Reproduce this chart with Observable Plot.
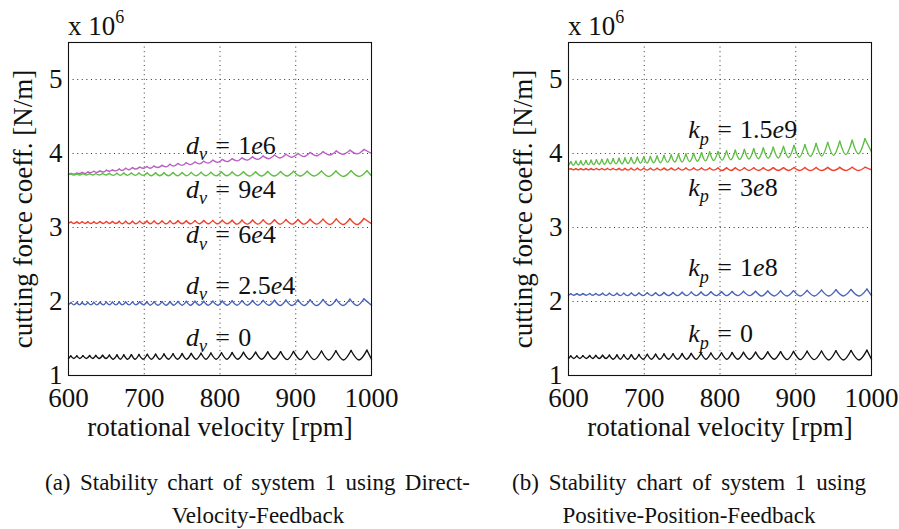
<!DOCTYPE html>
<html><head><meta charset="utf-8">
<script src="https://cdn.jsdelivr.net/npm/d3@7"></script>
<script src="https://cdn.jsdelivr.net/npm/@observablehq/plot@0.6"></script>
<style>
html,body{margin:0;padding:0;background:#fff;}
body{width:899px;height:529px;position:relative;overflow:hidden;font-family:"Liberation Serif","Times New Roman",serif;color:#111;}
.panel{position:absolute;top:0;}
.cap{position:absolute;font-size:23px;line-height:1;color:#111;white-space:nowrap;}
.just{white-space:normal;text-align:justify;text-align-last:justify;}
.ctr{text-align:center;}
</style></head><body>
<div id="pa" class="panel" style="left:0"></div>
<div id="pb" class="panel" style="left:450px"></div>
<div class="cap just" style="left:45px;top:471px;width:425px">(a) Stability chart of system 1 using Direct-</div>
<div class="cap ctr" style="left:58px;top:504px;width:400px">Velocity-Feedback</div>
<div class="cap just" style="left:512px;top:471px;width:354px">(b) Stability chart of system 1 using</div>
<div class="cap ctr" style="left:489px;top:504px;width:400px">Positive-Position-Feedback</div>
<script>
// ---- axis ticks ----
const xTicks = [600, 700, 800, 900, 1000];
const yTicks = [1, 2, 3, 4, 5];
const xLabel = "rotational velocity [rpm]";
const yLabel = "cutting force coeff. [N/m]";

// ---- lobe vertex positions (rpm) ----
// set with ~30 lobes
const rpm30Trough = [600,607,615,623.5,632,640.5,649.5,659,668.5,678,688,698.5,709.5,720.5,732,744,756,768.5,781.5,795,809,823.5,839,855,871.5,888.5,906,924.5,943.5,963,983.5,1000];
const rpm30Peak = [603,611,619,628,636,645,654,664,673,683,693,704,715,726,738,750,762,775,788,802,816,831,847,863,880,897,915,934,953,973,994];
// set with ~34 lobes
const rpm34Trough = [600,607,614.5,622,629.5,637.5,646,654,662.5,671,680,689,699,708,718,729,739,750,761,773,784.5,797,809.5,822.5,836,850,864.5,879.5,895,911,927.5,945,962.5,981,1000];
const rpm34Peak = [603.5,611,618,625.5,633.5,641.5,650,658,667,675.5,684.5,694,703.5,713,723.5,734,744.5,755.5,767,778.5,790.5,803,816,829,843,857,872,887,903,919,936,953.5,971.5,990];
// set with ~38 lobes
const rpm38Trough = [600,606.4,612.9,619.6,626.4,633.3,640.4,647.7,655.2,662.8,670.6,678.6,686.7,695.1,703.7,712.5,721.5,730.8,740.3,750,760,770.3,780.8,791.7,802.8,814.3,826.1,838.2,850.7,863.6,876.9,890.6,904.8,919.4,934.4,950,966.1,982.8,1000];
const rpm38Peak = [603.2,609.7,616.3,623,629.9,636.9,644,651.5,659,666.7,674.6,682.7,690.9,699.4,708.1,717,726.2,735.6,745.2,755,765.2,775.6,786.3,797.3,808.6,820.2,832.2,844.5,857.2,870.3,883.8,897.7,912.1,926.9,942.2,958.1,974.5,991.4];

// ---- cutting force coefficient values (x 10^6 N/m) ----
// panel (a) and (b): no feedback (black)
const noFbTrough = [1.23,1.23,1.23,1.23,1.23,1.23,1.23,1.22,1.22,1.22,1.22,1.22,1.22,1.22,1.22,1.22,1.22,1.22,1.22,1.22,1.22,1.22,1.22,1.22,1.22,1.215,1.215,1.215,1.21,1.21,1.21,1.22];
const noFbPeak = [1.265,1.265,1.268,1.27,1.272,1.274,1.276,1.278,1.28,1.282,1.284,1.287,1.289,1.291,1.294,1.296,1.299,1.301,1.304,1.307,1.31,1.313,1.316,1.319,1.322,1.325,1.328,1.331,1.334,1.338,1.342];
// panel (a): d_v = 1e6 (magenta)
const dv1e6Trough = [3.72,3.72,3.73,3.73,3.74,3.745,3.75,3.76,3.765,3.77,3.78,3.79,3.80,3.80,3.81,3.82,3.83,3.84,3.85,3.86,3.87,3.88,3.89,3.90,3.91,3.92,3.93,3.94,3.95,3.96,3.97,3.98,3.99,3.995,4.0];
const dv1e6Peak = [3.73,3.735,3.745,3.75,3.76,3.765,3.775,3.78,3.79,3.80,3.81,3.815,3.825,3.83,3.84,3.855,3.865,3.875,3.885,3.895,3.91,3.92,3.93,3.94,3.955,3.965,3.98,3.99,4.0,4.015,4.025,4.035,4.045,4.055];
// panel (a): d_v = 9e4 (green)
const dv9e4Trough = [3.715,3.71,3.71,3.71,3.71,3.71,3.71,3.705,3.705,3.705,3.705,3.705,3.70,3.70,3.70,3.70,3.70,3.70,3.70,3.70,3.70,3.70,3.695,3.695,3.695,3.695,3.695,3.695,3.69,3.69,3.69,3.70];
const dv9e4Peak = [3.725,3.725,3.727,3.728,3.73,3.73,3.732,3.733,3.735,3.736,3.737,3.738,3.74,3.741,3.743,3.744,3.745,3.747,3.748,3.75,3.751,3.753,3.754,3.756,3.757,3.759,3.76,3.762,3.764,3.766,3.768];
// panel (a): d_v = 6e4 (red)
const dv6e4Trough = [3.06,3.055,3.055,3.055,3.055,3.055,3.055,3.055,3.055,3.05,3.05,3.05,3.05,3.05,3.05,3.05,3.05,3.05,3.05,3.05,3.05,3.05,3.05,3.045,3.045,3.045,3.045,3.045,3.045,3.045,3.045,3.04,3.04,3.04,3.05];
const dv6e4Peak = [3.075,3.076,3.077,3.078,3.079,3.08,3.081,3.082,3.083,3.084,3.085,3.086,3.087,3.088,3.089,3.09,3.091,3.092,3.093,3.094,3.096,3.097,3.098,3.10,3.101,3.103,3.105,3.107,3.109,3.111,3.113,3.116,3.119,3.122];
// panel (a): d_v = 2.5e4 (blue)
const dv25e3Trough = [1.96,1.955,1.955,1.955,1.955,1.955,1.955,1.955,1.955,1.955,1.955,1.955,1.955,1.95,1.95,1.95,1.95,1.95,1.95,1.95,1.95,1.95,1.95,1.95,1.95,1.95,1.95,1.945,1.945,1.945,1.945,1.945,1.945,1.945,1.95];
const dv25e3Peak = [1.985,1.986,1.987,1.988,1.989,1.99,1.991,1.992,1.993,1.994,1.995,1.996,1.997,1.998,1.999,2.0,2.001,2.002,2.003,2.004,2.005,2.007,2.009,2.011,2.013,2.015,2.017,2.019,2.021,2.023,2.026,2.029,2.032,2.035];
// panel (b): k_p = 1.5e9 (green)
const kp15e8Trough = [3.84,3.84,3.845,3.845,3.85,3.85,3.855,3.855,3.86,3.86,3.86,3.865,3.865,3.87,3.87,3.875,3.875,3.88,3.885,3.885,3.89,3.895,3.90,3.905,3.91,3.915,3.92,3.925,3.93,3.935,3.94,3.945,3.95,3.96,3.965,3.975,3.985,3.995,4.02];
const kp15e8Peak = [3.89,3.895,3.90,3.905,3.91,3.915,3.92,3.925,3.93,3.935,3.94,3.945,3.95,3.955,3.96,3.965,3.975,3.98,3.99,3.995,4.00,4.01,4.02,4.025,4.035,4.045,4.055,4.065,4.075,4.085,4.095,4.11,4.12,4.135,4.15,4.165,4.18,4.2];
// panel (b): k_p = 3e8 (red)
const kp3e8Trough = [3.785,3.78,3.78,3.78,3.78,3.78,3.78,3.78,3.78,3.78,3.775,3.775,3.775,3.775,3.775,3.775,3.775,3.775,3.775,3.775,3.775,3.775,3.775,3.775,3.77,3.77,3.77,3.77,3.77,3.77,3.77,3.77,3.77,3.77,3.77,3.77,3.77,3.77,3.78];
const kp3e8Peak = [3.795,3.795,3.795,3.796,3.796,3.797,3.797,3.798,3.798,3.799,3.799,3.80,3.80,3.80,3.801,3.801,3.802,3.802,3.803,3.803,3.804,3.804,3.805,3.805,3.806,3.806,3.807,3.807,3.808,3.809,3.809,3.81,3.811,3.811,3.812,3.813,3.814,3.815];
// panel (b): k_p = 1e8 (blue)
const kp1e8Trough = [2.085,2.085,2.085,2.085,2.085,2.085,2.08,2.08,2.08,2.08,2.08,2.08,2.08,2.08,2.08,2.08,2.08,2.08,2.08,2.08,2.08,2.08,2.08,2.075,2.075,2.075,2.075,2.075,2.075,2.075,2.075,2.08];
const kp1e8Peak = [2.105,2.106,2.107,2.108,2.109,2.11,2.111,2.112,2.113,2.114,2.115,2.117,2.119,2.121,2.123,2.125,2.127,2.129,2.131,2.133,2.135,2.137,2.139,2.141,2.144,2.147,2.15,2.154,2.158,2.163,2.168];

// ---- curve labels ----
const labelsA = ["d_v = 1e6", "d_v = 9e4", "d_v = 6e4", "d_v = 2.5e4", "d_v = 0"];
const labelsAx = [755, 755, 755, 755, 755];
const labelsAy = [4.0, 3.405, 2.784, 2.108, 1.405];
const labelsB = ["k_p = 1.5e9", "k_p = 3e8", "k_p = 1e8", "k_p = 0"];
const labelsBx = [758, 758, 758, 758];
const labelsBy = [4.203, 3.432, 2.338, 1.446];

// ---- colours ----
const cBlack = "#111111", cMagenta = "#b95fc4", cGreen = "#5fbd45", cRed = "#f0412d", cBlue = "#4a63b7";

// each lobe: left cusp -> trough -> right cusp (drawn as its own arc)
function curve(rT, rP, vT, vP) {
  const out = [];
  for (let i = 0; i < rT.length; i++) {
    if (i > 0) out.push({rpm: rP[i - 1], f: vP[i - 1], lobe: i});
    out.push({rpm: rT[i], f: vT[i], lobe: i});
    if (i < rP.length) out.push({rpm: rP[i], f: vP[i], lobe: i});
  }
  return out;
}

const seriesA = [
  {stroke: cMagenta, data: curve(rpm34Trough, rpm34Peak, dv1e6Trough, dv1e6Peak)},
  {stroke: cGreen, data: curve(rpm30Trough, rpm30Peak, dv9e4Trough, dv9e4Peak)},
  {stroke: cRed, data: curve(rpm34Trough, rpm34Peak, dv6e4Trough, dv6e4Peak)},
  {stroke: cBlue, data: curve(rpm34Trough, rpm34Peak, dv25e3Trough, dv25e3Peak)},
  {stroke: cBlack, data: curve(rpm30Trough, rpm30Peak, noFbTrough, noFbPeak)}
];
const seriesB = [
  {stroke: cGreen, data: curve(rpm38Trough, rpm38Peak, kp15e8Trough, kp15e8Peak)},
  {stroke: cRed, data: curve(rpm38Trough, rpm38Peak, kp3e8Trough, kp3e8Peak)},
  {stroke: cBlue, data: curve(rpm30Trough, rpm30Peak, kp1e8Trough, kp1e8Peak)},
  {stroke: cBlack, data: curve(rpm30Trough, rpm30Peak, noFbTrough, noFbPeak)}
];

const FS = 27;   // axis text
const LFS = 26;  // curve labels

function mathify(textEl, fs) {
  const s = textEl.textContent;
  textEl.textContent = "";
  const sel = d3.select(textEl);
  const parts = [];
  for (let i = 0; i < s.length; i++) {
    const c = s[i];
    if (c === " ") continue;
    if (c === "_") { parts.push({t: s[i + 1], sub: true, it: true}); i++; continue; }
    parts.push({t: c, it: /[a-z]/.test(c), eq: c === "="});
  }
  let backDy = 0, extraDx = 0;
  for (const p of parts) {
    const ts = sel.append("tspan").text(p.t);
    if (p.it) ts.attr("font-style", "italic");
    let dy = backDy; backDy = 0;
    let dx = extraDx; extraDx = 0;
    if (p.sub) { ts.attr("font-size", fs * 0.7); dy += fs * 0.24; backDy = -fs * 0.24; }
    if (p.eq) { dx += fs * 0.32; extraDx = fs * 0.32; }
    if (dy) ts.attr("dy", dy);
    if (dx) ts.attr("dx", dx);
  }
}

function panel(series, labels, lx, ly, mLeft, mRight, width) {
  const lab = labels.map((t, i) => ({t, x: lx[i], y: ly[i]}));
  const svg = Plot.plot({
    width, height: 445,
    marginLeft: mLeft, marginRight: mRight, marginTop: 42, marginBottom: 70,
    style: {fontFamily: "Liberation Serif, Times New Roman, serif", fontSize: FS + "px", color: "#111", background: "#fff", overflow: "visible"},
    x: {domain: [600, 1000]},
    y: {domain: [1, 5.5]},
    marks: [
      Plot.gridX(xTicks.slice(1, -1), {stroke: "#333", strokeOpacity: 1, strokeWidth: 1, strokeDasharray: "1,3.6"}),
      Plot.gridY(yTicks.slice(1), {stroke: "#333", strokeOpacity: 1, strokeWidth: 1, strokeDasharray: "1,3.6"}),
      Plot.axisX(xTicks, {tickSize: 0, tickPadding: 12, label: xLabel, labelAnchor: "center", labelOffset: 60, labelArrow: "none", tickFormat: d => String(d)}),
      Plot.axisY(yTicks, {tickSize: 0, tickPadding: 6, label: yLabel, labelAnchor: "center", labelOffset: 56, labelArrow: "none", tickFormat: d => String(d)}),
      ...series.map(s => Plot.line(s.data, {x: "rpm", y: "f", z: "lobe", curve: "natural", stroke: s.stroke, strokeWidth: 1.4})),
      Plot.text(lab, {x: "x", y: "y", text: "t", textAnchor: "start", lineAnchor: "bottom", fontSize: LFS, className: "mathlbl"}),
      Plot.frame({stroke: "#111", strokeWidth: 1.1})
    ]
  });
  d3.select(svg).selectAll("g.mathlbl text").each(function() { mathify(this, LFS); });
  const m = d3.select(svg).append("text").attr("x", mLeft).attr("y", 35)
    .attr("text-anchor", "start").attr("font-size", FS).attr("fill", "#111");
  m.append("tspan").text("x 10");
  m.append("tspan").text("6").attr("font-size", 18).attr("dy", -12);
  return svg;
}

document.getElementById("pa").appendChild(panel(seriesA, labelsA, labelsAx, labelsAy, 68, 79, 450));
document.getElementById("pb").appendChild(panel(seriesB, labelsB, labelsBx, labelsBy, 118, 28, 449));
</script>
</body></html>
